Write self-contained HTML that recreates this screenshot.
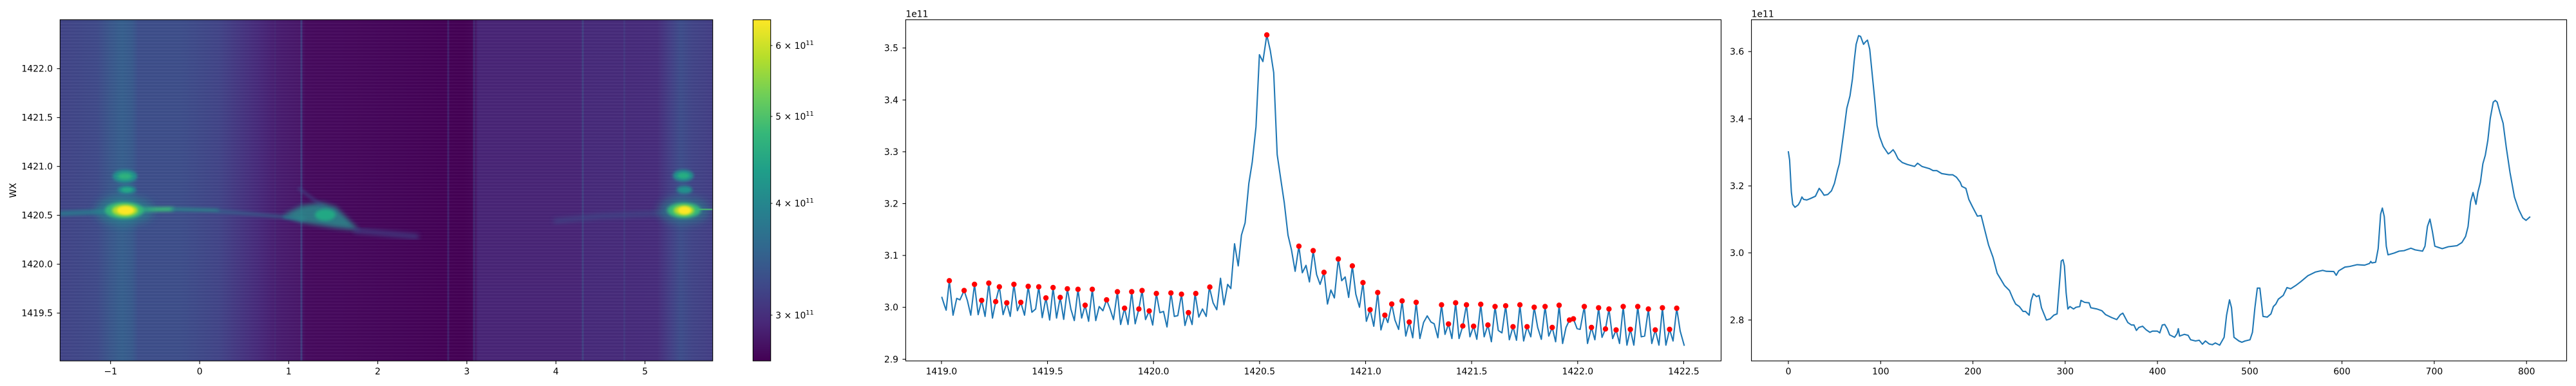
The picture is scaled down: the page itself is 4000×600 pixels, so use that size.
<!DOCTYPE html>
<html>
<head>
<meta charset="utf-8">
<style>
html,body{margin:0;padding:0;background:#fff;}
body{width:4000px;height:600px;overflow:hidden;}
svg{display:block;}
text{font-family:"DejaVu Sans","Liberation Sans",sans-serif;font-size:13.9px;fill:#000;}
</style>
</head>
<body>
<svg width="4000" height="600" viewBox="0 0 4000 600" xmlns="http://www.w3.org/2000/svg">
<defs>
  <linearGradient id="hg" x1="0" y1="0" x2="1" y2="0">
    <stop offset="0" stop-color="#414487"/>
    <stop offset="0.056" stop-color="#3f4a89"/>
    <stop offset="0.076" stop-color="#3a568b"/>
    <stop offset="0.095" stop-color="#365f8d"/>
    <stop offset="0.110" stop-color="#38598c"/>
    <stop offset="0.120" stop-color="#3d4e8a"/>
    <stop offset="0.184" stop-color="#3d4e8a"/>
    <stop offset="0.243" stop-color="#414487"/>
    <stop offset="0.273" stop-color="#453781"/>
    <stop offset="0.303" stop-color="#472a7a"/>
    <stop offset="0.332" stop-color="#481d6f"/>
    <stop offset="0.367" stop-color="#481769"/>
    <stop offset="0.377" stop-color="#460b5e"/>
    <stop offset="0.447" stop-color="#46085c"/>
    <stop offset="0.520" stop-color="#450559"/>
    <stop offset="0.589" stop-color="#440256"/>
    <stop offset="0.618" stop-color="#440154"/>
    <stop offset="0.633" stop-color="#450457"/>
    <stop offset="0.640" stop-color="#482576"/>
    <stop offset="0.796" stop-color="#482576"/>
    <stop offset="0.806" stop-color="#472a7a"/>
    <stop offset="0.914" stop-color="#472c7b"/>
    <stop offset="0.934" stop-color="#433e85"/>
    <stop offset="0.951" stop-color="#3d4d8a"/>
    <stop offset="0.969" stop-color="#414487"/>
    <stop offset="1" stop-color="#433e85"/>
  </linearGradient>
  <linearGradient id="cb" x1="0" y1="0" x2="0" y2="1">
    <stop offset="0" stop-color="#fde725"/>
    <stop offset="0.111" stop-color="#b5de2b"/>
    <stop offset="0.222" stop-color="#6ece58"/>
    <stop offset="0.333" stop-color="#35b779"/>
    <stop offset="0.444" stop-color="#1f9e89"/>
    <stop offset="0.555" stop-color="#26828e"/>
    <stop offset="0.666" stop-color="#31688e"/>
    <stop offset="0.777" stop-color="#3e4989"/>
    <stop offset="0.888" stop-color="#482878"/>
    <stop offset="1" stop-color="#440154"/>
  </linearGradient>
  <pattern id="stripes" x="0" y="30.7" width="20" height="5" patternUnits="userSpaceOnUse">
    <rect x="0" y="0" width="20" height="1.2" fill="#ffffff" opacity="0.05"/>
    <rect x="0" y="2.6" width="20" height="1" fill="#000000" opacity="0.04"/>
  </pattern>
  <filter id="b1" x="-50%" y="-50%" width="200%" height="200%"><feGaussianBlur stdDeviation="1.5"/></filter>
  <filter id="b2" x="-50%" y="-50%" width="200%" height="200%"><feGaussianBlur stdDeviation="2.5"/></filter>
  <filter id="b4" x="-50%" y="-50%" width="200%" height="200%"><feGaussianBlur stdDeviation="4"/></filter>
  <filter id="b7" x="-50%" y="-50%" width="200%" height="200%"><feGaussianBlur stdDeviation="7"/></filter>
  <clipPath id="c1"><rect x="93.3" y="30.7" width="1013.4" height="530.3"/></clipPath>
  <clipPath id="c2"><rect x="1406.4" y="30.7" width="1266.1" height="530.3"/></clipPath>
  <clipPath id="c3"><rect x="2719.6" y="30.7" width="1265.9" height="530.3"/></clipPath>
</defs>

<rect x="0" y="0" width="4000" height="600" fill="#fff"/>

<!-- ============ PANEL 1: heatmap ============ -->
<g clip-path="url(#c1)">
  <rect x="93.3" y="30.7" width="1013.4" height="530.3" fill="url(#hg)"/>
  <!-- thin vertical lines -->
  <rect x="426" y="30.7" width="2.5" height="530.3" fill="#3e4a89" opacity="0.15"/>
  <rect x="466.5" y="30.7" width="3" height="530.3" fill="#3e4f8a" opacity="0.65"/>
  <rect x="694.5" y="30.7" width="3" height="530.3" fill="#3e4a89" opacity="0.4"/>
  <rect x="734.5" y="30.7" width="3" height="530.3" fill="#3e4a89" opacity="0.45"/>
  <rect x="903.5" y="30.7" width="3" height="530.3" fill="#3c538b" opacity="0.55"/>
  <rect x="968" y="30.7" width="3" height="530.3" fill="#3e4a89" opacity="0.35"/>
  <rect x="93.3" y="30.7" width="1013.4" height="530.3" fill="url(#stripes)"/>

  <!-- streak left part -->
  <g filter="url(#b2)">
    <path d="M93,332 L160,329 L185,328" stroke="#2a788e" stroke-width="8" fill="none" opacity="0.85"/>
    <path d="M205,326 L270,325" stroke="#3bb57a" stroke-width="7" fill="none"/>
    <path d="M265,325 L340,327" stroke="#2a8a8c" stroke-width="5" fill="none" opacity="0.85"/>
    <path d="M335,328 L440,337 L475,341" stroke="#31688e" stroke-width="6" fill="none" opacity="0.6"/>
    <path d="M440,337 L470,341" stroke="#2a788e" stroke-width="6" fill="none" opacity="0.7"/>
  </g>
  <!-- main left blob -->
  <ellipse cx="193" cy="327" rx="45" ry="22" fill="#21918c" opacity="0.55" filter="url(#b7)"/>
  <ellipse cx="194" cy="274" rx="19" ry="10" fill="#21918c" filter="url(#b2)"/>
  <ellipse cx="194" cy="274" rx="11" ry="5" fill="#2db27d" filter="url(#b2)"/>
  <ellipse cx="197" cy="295" rx="14" ry="6" fill="#21918c" filter="url(#b2)"/>
  <ellipse cx="197" cy="295" rx="8" ry="3.5" fill="#28a886" filter="url(#b1)"/>
  <ellipse cx="193" cy="327" rx="30" ry="13" fill="#35b779" filter="url(#b2)"/>
  <ellipse cx="194" cy="327" rx="20" ry="9" fill="#b5de2b" filter="url(#b2)"/>
  <ellipse cx="195" cy="327" rx="13" ry="6.5" fill="#fde725" filter="url(#b1)"/>

  <!-- triangle feature -->
  <polygon points="440,334 470,319 500,315 522,322 558,358 520,354 470,346" fill="#2a8c8c" filter="url(#b4)" opacity="0.85"/>
  <ellipse cx="505" cy="334" rx="16" ry="9" fill="#22a884" filter="url(#b2)"/>
  <path d="M463,292 L500,320" stroke="#3b528b" stroke-width="5" fill="none" filter="url(#b2)" opacity="0.5"/>
  <path d="M550,358 L650,368" stroke="#3e4c8a" stroke-width="7" fill="none" filter="url(#b4)" opacity="0.8"/>

  <!-- right streak and blob -->
  <path d="M860,344 L930,336 L1040,331" stroke="#3b528b" stroke-width="6" fill="none" filter="url(#b4)" opacity="0.7"/>
  <ellipse cx="1062" cy="327" rx="40" ry="20" fill="#21918c" opacity="0.5" filter="url(#b7)"/>
  <ellipse cx="1061" cy="273" rx="16" ry="9" fill="#21918c" filter="url(#b2)"/>
  <ellipse cx="1061" cy="273" rx="9" ry="4.5" fill="#27ad81" filter="url(#b1)"/>
  <ellipse cx="1063" cy="295" rx="12" ry="6" fill="#21918c" filter="url(#b2)"/>
  <path d="M1072,326 L1108,325" stroke="#4ec36b" stroke-width="6" fill="none" filter="url(#b1)"/>
  <ellipse cx="1062" cy="327" rx="26" ry="12" fill="#35b779" filter="url(#b2)"/>
  <ellipse cx="1062" cy="327" rx="16" ry="8" fill="#b5de2b" filter="url(#b2)"/>
  <ellipse cx="1063" cy="327" rx="10" ry="6" fill="#fde725" filter="url(#b1)"/>
</g>
<rect x="93.3" y="30.7" width="1013.4" height="530.3" fill="none" stroke="#000" stroke-width="1.1"/>

<!-- panel 1 ticks -->
<g stroke="#000" stroke-width="1.1">
  <line x1="171.7" y1="561" x2="171.7" y2="565.9"/>
  <line x1="310" y1="561" x2="310" y2="565.9"/>
  <line x1="448.3" y1="561" x2="448.3" y2="565.9"/>
  <line x1="586.6" y1="561" x2="586.6" y2="565.9"/>
  <line x1="724.9" y1="561" x2="724.9" y2="565.9"/>
  <line x1="863.2" y1="561" x2="863.2" y2="565.9"/>
  <line x1="1001.5" y1="561" x2="1001.5" y2="565.9"/>
  <line x1="88.4" y1="106.7" x2="93.3" y2="106.7"/>
  <line x1="88.4" y1="182.7" x2="93.3" y2="182.7"/>
  <line x1="88.4" y1="258.7" x2="93.3" y2="258.7"/>
  <line x1="88.4" y1="334.7" x2="93.3" y2="334.7"/>
  <line x1="88.4" y1="410.7" x2="93.3" y2="410.7"/>
  <line x1="88.4" y1="486.7" x2="93.3" y2="486.7"/>
</g>
<g text-anchor="middle">
  <text x="171.7" y="582">−1</text>
  <text x="310" y="582">0</text>
  <text x="448.3" y="582">1</text>
  <text x="586.6" y="582">2</text>
  <text x="724.9" y="582">3</text>
  <text x="863.2" y="582">4</text>
  <text x="1001.5" y="582">5</text>
</g>
<g text-anchor="end">
  <text x="82" y="111.7">1422.0</text>
  <text x="82" y="187.7">1421.5</text>
  <text x="82" y="263.7">1421.0</text>
  <text x="82" y="339.7">1420.5</text>
  <text x="82" y="415.7">1420.0</text>
  <text x="82" y="491.7">1419.5</text>
</g>
<text x="25" y="296" text-anchor="middle" transform="rotate(-90 25 296)">WX</text>

<!-- colorbar -->
<rect x="1169.3" y="30.7" width="27.4" height="530.3" fill="url(#cb)"/>
<rect x="1169.3" y="30.7" width="27.4" height="530.3" fill="none" stroke="#000" stroke-width="1.1"/>
<g stroke="#000" stroke-width="0.9">
  <line x1="1196.7" y1="70.8" x2="1199.5" y2="70.8"/>
  <line x1="1196.7" y1="181" x2="1199.5" y2="181"/>
  <line x1="1196.7" y1="316.1" x2="1199.5" y2="316.1"/>
  <line x1="1196.7" y1="489.9" x2="1199.5" y2="489.9"/>
</g>
<text x="1204.3" y="75.8">6 × 10<tspan dy="-6" font-size="9.7">11</tspan></text>
<text x="1204.3" y="186">5 × 10<tspan dy="-6" font-size="9.7">11</tspan></text>
<text x="1204.3" y="321.1">4 × 10<tspan dy="-6" font-size="9.7">11</tspan></text>
<text x="1204.3" y="494.9">3 × 10<tspan dy="-6" font-size="9.7">11</tspan></text>

<!-- ============ PANEL 2 ============ -->
<g clip-path="url(#c2)">
<polyline fill="none" stroke="#1f77b4" stroke-width="2.08" stroke-linejoin="round" stroke-linecap="square" points="1462.6,462.3 1466.5,474.5 1469.2,482.2 1474.1,436.3 1479.9,489.9 1485.6,463.8 1490.6,466.1 1497.1,451.6 1502.1,466.9 1507.4,489.9 1513.2,442 1518.9,489.1 1524.3,466.9 1529.6,491.8 1535.4,440.1 1541.1,494.4 1546.1,468.8 1551.8,445.8 1557.6,489.1 1563.3,470.7 1568.7,491.8 1574.4,442 1579.8,483 1585.1,470 1590.9,489.9 1596.6,445.1 1602.3,485.3 1608.1,480.3 1613,445.8 1618.4,493.7 1624.1,463.1 1629.9,497.5 1635.2,447 1640.6,494.4 1646.3,462.3 1651.7,496.4 1657.4,448.9 1662.8,480.3 1668.2,498.3 1673.9,449.7 1679.6,494.4 1685,474.5 1690.4,499.4 1696.1,449.7 1701.5,498.3 1706.8,476.5 1712.6,483 1718.3,466.1 1723.7,480.3 1729,496.7 1735.1,453.5 1740.1,504.4 1746.2,479.1 1751.6,504.4 1757.3,453.5 1762.7,503.3 1768.4,480.3 1773.4,451.6 1778.8,496.7 1784.5,483.3 1789.9,505.2 1795.6,456.2 1801,486 1806.7,484.1 1812.1,508.2 1818.2,455.4 1823.5,491.8 1828.9,490.6 1834.6,457.3 1840,505.9 1845.4,486 1851.1,504.4 1855.7,456.2 1861.5,492.9 1867.2,480.3 1873,491.8 1877.9,446.2 1883.7,470.7 1889.4,481.4 1895.2,432.5 1900.5,473.8 1906.3,442 1911.2,448.5 1917,378.9 1922.7,413.3 1927.7,365.5 1933.4,346.3 1939.2,285.1 1944.5,251.8 1950.3,197.1 1955.6,85 1961,95.7 1967.1,54.3 1972.5,78.5 1977.8,112.9 1983.2,240.3 1988.9,279.4 1994.3,315.7 2000,365.5 2005.4,388.4 2011.1,421.7 2016.9,382.7 2022.2,424 2028,412.5 2033.3,438.2 2039.1,389.6 2044.4,426.7 2049.8,442 2055.9,423.3 2061.3,472.6 2066.6,450.8 2072,463.1 2078.1,402.6 2083.4,436.3 2088.8,430.5 2094.2,462.3 2099.9,413.3 2105.3,457.3 2111,477.6 2116.4,439.3 2121.7,499.4 2127.5,481.4 2133.2,507.1 2139.3,454.7 2144.3,512.8 2150.4,489.9 2155,501.3 2161.1,472.6 2166.1,497.5 2171.8,512 2177.2,467.7 2182.9,522.4 2188.3,500.6 2193.7,525 2199,470 2204.8,526.2 2210.5,501.3 2216.2,491 2222,500.6 2227,503.3 2232.7,525 2238.4,473.8 2243.8,519.7 2249.2,503.6 2254.5,526.2 2260.3,470.7 2265.6,526.2 2271.4,506.7 2277.1,473.8 2282.5,523.5 2288.2,507.1 2293.2,527.4 2299.3,473 2304.6,523.5 2310.4,505.2 2315.8,531.2 2321.5,476.5 2326.5,513.6 2332.2,517.4 2338,475.3 2343.7,528.1 2349.4,507.8 2354.8,528.9 2360.1,473.8 2365.9,530 2371.2,507.8 2377,523.5 2382.3,477.6 2387.7,509 2393.4,527.4 2399.2,476.5 2404.9,522.4 2410.3,509 2415.6,531.2 2421,474.5 2426.4,533.9 2431.7,509 2437.1,497.5 2443.2,495.6 2448.9,510.9 2453.6,512 2460.1,476.5 2465.1,533.9 2471.2,509 2476.5,528.1 2482.3,478.4 2487.6,524.3 2493,511.3 2498.4,480.3 2504.1,526.2 2509.5,512.8 2514.8,533.9 2520.5,476.5 2526.3,536.5 2531.6,512 2537,536.5 2543.1,476.5 2548.5,523.5 2553.8,522.4 2559.6,480.3 2564.9,533.9 2570.3,512.8 2576,536.5 2581.4,478.4 2586.8,536.5 2592.5,512 2597.9,530 2603.6,479.1 2609,514.7 2615.1,536.5"/>
<g fill="#ff0000">
  <circle cx="1474.1" cy="436.3" r="4.2"/><circle cx="1497.1" cy="451.6" r="4.2"/><circle cx="1513.2" cy="442" r="4.2"/><circle cx="1524.3" cy="466.9" r="4.2"/><circle cx="1535.4" cy="440.1" r="4.2"/><circle cx="1546.1" cy="468.8" r="4.2"/><circle cx="1551.8" cy="445.8" r="4.2"/><circle cx="1563.3" cy="470.7" r="4.2"/><circle cx="1574.4" cy="442" r="4.2"/><circle cx="1585.1" cy="470" r="4.2"/><circle cx="1596.6" cy="445.1" r="4.2"/><circle cx="1613" cy="445.8" r="4.2"/><circle cx="1624.1" cy="463.1" r="4.2"/><circle cx="1635.2" cy="447" r="4.2"/><circle cx="1646.3" cy="462.3" r="4.2"/><circle cx="1657.4" cy="448.9" r="4.2"/><circle cx="1673.9" cy="449.7" r="4.2"/><circle cx="1685" cy="474.5" r="4.2"/><circle cx="1696.1" cy="449.7" r="4.2"/><circle cx="1718.3" cy="466.1" r="4.2"/><circle cx="1735.1" cy="453.5" r="4.2"/><circle cx="1746.2" cy="479.1" r="4.2"/><circle cx="1757.3" cy="453.5" r="4.2"/><circle cx="1768.4" cy="480.3" r="4.2"/><circle cx="1773.4" cy="451.6" r="4.2"/><circle cx="1784.5" cy="483.3" r="4.2"/><circle cx="1795.6" cy="456.2" r="4.2"/><circle cx="1818.2" cy="455.4" r="4.2"/><circle cx="1834.6" cy="457.3" r="4.2"/><circle cx="1845.4" cy="486" r="4.2"/><circle cx="1856.8" cy="456.2" r="4.2"/><circle cx="1878.6" cy="446.2" r="4.2"/>
  <circle cx="1967.1" cy="54.3" r="4.2"/><circle cx="2016.9" cy="382.7" r="4.2"/><circle cx="2039.1" cy="389.6" r="4.2"/><circle cx="2055.9" cy="423.3" r="4.2"/><circle cx="2078.1" cy="402.6" r="4.2"/><circle cx="2099.9" cy="413.3" r="4.2"/><circle cx="2116.4" cy="439.3" r="4.2"/><circle cx="2127.5" cy="481.4" r="4.2"/><circle cx="2139.3" cy="454.7" r="4.2"/><circle cx="2150.4" cy="489.9" r="4.2"/><circle cx="2161.1" cy="472.6" r="4.2"/><circle cx="2177.2" cy="467.7" r="4.2"/><circle cx="2188.3" cy="500.6" r="4.2"/><circle cx="2199" cy="470" r="4.2"/><circle cx="2238.4" cy="473.8" r="4.2"/><circle cx="2249.2" cy="503.6" r="4.2"/><circle cx="2260.3" cy="470.7" r="4.2"/><circle cx="2271.4" cy="506.7" r="4.2"/><circle cx="2277.1" cy="473.8" r="4.2"/><circle cx="2288.2" cy="507.1" r="4.2"/><circle cx="2299.3" cy="473" r="4.2"/><circle cx="2310.4" cy="505.2" r="4.2"/><circle cx="2321.5" cy="476.5" r="4.2"/><circle cx="2338" cy="475.3" r="4.2"/><circle cx="2349.4" cy="507.8" r="4.2"/><circle cx="2360.1" cy="473.8" r="4.2"/><circle cx="2371.2" cy="507.8" r="4.2"/><circle cx="2382.3" cy="477.6" r="4.2"/><circle cx="2399.2" cy="476.5" r="4.2"/><circle cx="2410.3" cy="509" r="4.2"/><circle cx="2421" cy="474.5" r="4.2"/><circle cx="2437.1" cy="497.5" r="4.2"/><circle cx="2443.2" cy="495.6" r="4.2"/>
  <circle cx="2460.1" cy="476.5" r="4.2"/><circle cx="2471.2" cy="509" r="4.2"/><circle cx="2482.3" cy="478.4" r="4.2"/><circle cx="2493" cy="511.3" r="4.2"/><circle cx="2498.4" cy="480.3" r="4.2"/><circle cx="2509.5" cy="512.8" r="4.2"/><circle cx="2520.5" cy="476.5" r="4.2"/><circle cx="2531.6" cy="512" r="4.2"/><circle cx="2543.1" cy="476.5" r="4.2"/><circle cx="2559.6" cy="480.3" r="4.2"/><circle cx="2570.3" cy="512.8" r="4.2"/><circle cx="2581.4" cy="478.4" r="4.2"/><circle cx="2592.5" cy="512" r="4.2"/><circle cx="2603.6" cy="479.1" r="4.2"/>
</g>
</g>
<rect x="1406.4" y="30.7" width="1266.1" height="530.3" fill="none" stroke="#000" stroke-width="1.1"/>
<g stroke="#000" stroke-width="1.1">
  <line x1="1461.9" y1="561" x2="1461.9" y2="565.9"/>
  <line x1="1626.55" y1="561" x2="1626.55" y2="565.9"/>
  <line x1="1791.2" y1="561" x2="1791.2" y2="565.9"/>
  <line x1="1955.85" y1="561" x2="1955.85" y2="565.9"/>
  <line x1="2120.5" y1="561" x2="2120.5" y2="565.9"/>
  <line x1="2285.15" y1="561" x2="2285.15" y2="565.9"/>
  <line x1="2449.8" y1="561" x2="2449.8" y2="565.9"/>
  <line x1="2614.45" y1="561" x2="2614.45" y2="565.9"/>
  <line x1="1401.5" y1="74.6" x2="1406.4" y2="74.6"/>
  <line x1="1401.5" y1="155.4" x2="1406.4" y2="155.4"/>
  <line x1="1401.5" y1="235.9" x2="1406.4" y2="235.9"/>
  <line x1="1401.5" y1="316.5" x2="1406.4" y2="316.5"/>
  <line x1="1401.5" y1="397.1" x2="1406.4" y2="397.1"/>
  <line x1="1401.5" y1="477.7" x2="1406.4" y2="477.7"/>
  <line x1="1401.5" y1="558.4" x2="1406.4" y2="558.4"/>
</g>
<g text-anchor="middle">
  <text x="1461.9" y="582">1419.0</text>
  <text x="1626.55" y="582">1419.5</text>
  <text x="1791.2" y="582">1420.0</text>
  <text x="1955.85" y="582">1420.5</text>
  <text x="2120.5" y="582">1421.0</text>
  <text x="2285.15" y="582">1421.5</text>
  <text x="2449.8" y="582">1422.0</text>
  <text x="2614.45" y="582">1422.5</text>
</g>
<g text-anchor="end">
  <text x="1395" y="79.6">3.5</text>
  <text x="1395" y="160.4">3.4</text>
  <text x="1395" y="240.9">3.3</text>
  <text x="1395" y="321.5">3.2</text>
  <text x="1395" y="402.1">3.1</text>
  <text x="1395" y="482.7">3.0</text>
  <text x="1395" y="563.4">2.9</text>
</g>
<text x="1406.4" y="26.5">1e11</text>

<!-- ============ PANEL 3 ============ -->
<g clip-path="url(#c3)">
<polyline fill="none" stroke="#1f77b4" stroke-width="2.08" stroke-linejoin="round" stroke-linecap="square" points="2777,236.1 2778.9,248.8 2781.6,298.5 2783.8,317.6 2787.3,322.2 2792.3,318.4 2795,313.8 2798,306.2 2800.7,310 2805.7,310.8 2811.4,308.5 2819,305 2824.8,292.8 2827.9,296.6 2832.5,303.5 2838.2,302.3 2843.9,296.6 2848.5,285.1 2853.5,264.1 2856.2,254.5 2859.2,233.4 2863.8,199 2867.7,168.4 2872.6,149.3 2876.5,122.5 2879.1,95.7 2882.2,68.9 2886,55.5 2889.1,56.6 2893.7,68.9 2896.7,65.1 2899.8,62.4 2903.3,76.5 2907.1,114.8 2910.9,153.1 2914.7,195.2 2918.6,212.4 2924.3,227.7 2932,239.2 2935,237.3 2939.6,232.7 2942.7,237.3 2947.3,246.8 2953.8,252.6 2961.5,255.6 2973,258.7 2977.6,253.7 2984.4,258.7 2995.9,262.1 3001.7,265.2 3007.4,265.2 3015.1,269.8 3026.5,271.7 3032.3,271.7 3038,275.5 3043.8,283.2 3046.4,289.7 3052.6,292.8 3057.2,310 3062.9,321.5 3070.5,336 3076.3,334.9 3082,357.8 3087.8,380.8 3094.7,399.9 3101.2,424.8 3107,434.4 3112.6,443.9 3120.3,451.6 3126,465 3129.9,472.6 3135.6,476.5 3141.4,484.1 3145.2,484.1 3150.9,489.9 3154,466.9 3157.4,456.6 3162.4,461.1 3166.2,459.2 3170,478.4 3177.7,497.5 3183.4,495.6 3189.2,489.9 3194.2,487.9 3200.7,405.7 3203.4,403.7 3205.6,413.3 3208.3,455.4 3211,480.3 3214.1,476.5 3219.8,480.3 3223.6,477.6 3229.4,476.5 3231.3,466.9 3237,470 3243.9,470.7 3246.6,478.4 3256.2,480.3 3263.8,483 3269.6,489.1 3279.1,493.7 3286.8,496.7 3292.5,489.1 3296.3,486.8 3304,501.3 3309.7,505.2 3313.6,505.2 3317.4,513.6 3321.2,509 3327,507.1 3332.7,512.8 3338.4,516.6 3342.3,514.7 3349.9,514.7 3353.7,517.4 3357.6,505.2 3361.4,504.4 3365.2,510.9 3369,520.5 3376.7,524.3 3380.5,518.6 3382.5,510.9 3384.4,522.4 3392,519.7 3397.7,521.2 3401.6,528.1 3409.2,530 3414.9,528.9 3419.9,535 3424.6,530 3430.3,534.6 3435.3,535.8 3439.9,533.1 3446.7,536.5 3453.6,524.3 3457.4,489.9 3462,466.1 3465.1,478.4 3468.9,524.3 3476.5,530 3481.1,532 3486.1,530 3493.8,528.1 3497.6,516.6 3501.4,478.4 3505.2,447.8 3509.1,447.8 3514,491.8 3520.5,492.9 3526.3,487.9 3530.1,476.5 3533.9,472.6 3537.8,465 3545.4,459.2 3551.2,447 3556.9,448.9 3564.6,443.9 3572.2,438.2 3583.7,428.6 3595.2,422.9 3606.7,420.2 3612.4,421.7 3623.9,422.1 3627.7,427.9 3631.5,421 3641.1,415.2 3648.8,414.1 3660.2,411.4 3671.7,412.2 3679.4,409.5 3681.3,406.4 3683.2,408.7 3688.9,407.6 3692.8,386.5 3696.6,333 3699.3,323.4 3702.3,336.8 3705.4,382.7 3708.1,396.1 3717.6,393.4 3725.3,390.4 3733,389.6 3743.7,385.8 3750.2,388.4 3761.7,390.4 3765.5,382.7 3769.3,352.1 3773.2,340.6 3777,359.7 3780.8,382.7 3786.5,384.6 3792.3,386.5 3801.8,383.5 3815.2,381.9 3822.8,377 3828.6,367.4 3832.4,352.1 3836.3,313.8 3840.1,299.3 3844.7,317.6 3847.7,298.5 3851.6,283.2 3855.4,254.5 3859.2,241.1 3863.1,218.1 3866.9,183.7 3871.5,158.8 3874.6,156.1 3877.6,158.8 3882.2,176 3886.8,191.4 3891.8,229.6 3897.5,267.9 3904.4,306.2 3910.9,325.3 3917.4,338.7 3922.4,342.5 3928.1,337.5"/>
</g>
<rect x="2719.6" y="30.7" width="1265.9" height="530.3" fill="none" stroke="#000" stroke-width="1.1"/>
<g stroke="#000" stroke-width="1.1">
  <line x1="2777" y1="561" x2="2777" y2="565.9"/>
  <line x1="2920.3" y1="561" x2="2920.3" y2="565.9"/>
  <line x1="3063.5" y1="561" x2="3063.5" y2="565.9"/>
  <line x1="3206.8" y1="561" x2="3206.8" y2="565.9"/>
  <line x1="3350.1" y1="561" x2="3350.1" y2="565.9"/>
  <line x1="3493.4" y1="561" x2="3493.4" y2="565.9"/>
  <line x1="3636.6" y1="561" x2="3636.6" y2="565.9"/>
  <line x1="3779.9" y1="561" x2="3779.9" y2="565.9"/>
  <line x1="3923.2" y1="561" x2="3923.2" y2="565.9"/>
  <line x1="2714.7" y1="80.2" x2="2719.6" y2="80.2"/>
  <line x1="2714.7" y1="184.8" x2="2719.6" y2="184.8"/>
  <line x1="2714.7" y1="289" x2="2719.6" y2="289"/>
  <line x1="2714.7" y1="393" x2="2719.6" y2="393"/>
  <line x1="2714.7" y1="497.4" x2="2719.6" y2="497.4"/>
</g>
<g text-anchor="middle">
  <text x="2777" y="582">0</text>
  <text x="2920.3" y="582">100</text>
  <text x="3063.5" y="582">200</text>
  <text x="3206.8" y="582">300</text>
  <text x="3350.1" y="582">400</text>
  <text x="3493.4" y="582">500</text>
  <text x="3636.6" y="582">600</text>
  <text x="3779.9" y="582">700</text>
  <text x="3923.2" y="582">800</text>
</g>
<g text-anchor="end">
  <text x="2708.2" y="85.2">3.6</text>
  <text x="2708.2" y="189.8">3.4</text>
  <text x="2708.2" y="294">3.2</text>
  <text x="2708.2" y="398">3.0</text>
  <text x="2708.2" y="502.4">2.8</text>
</g>
<text x="2719.6" y="26.5">1e11</text>
</svg>
</body>
</html>
